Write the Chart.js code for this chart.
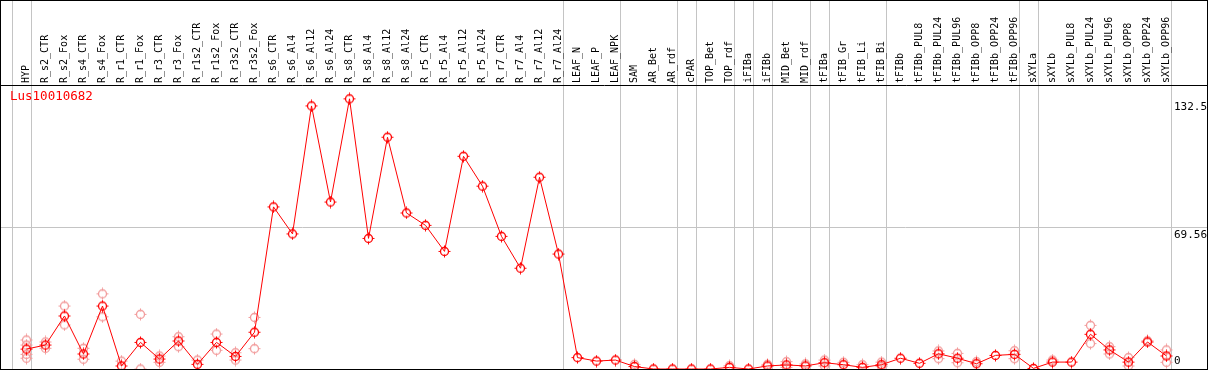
<!DOCTYPE html>
<html>
<head>
<meta charset="utf-8">
<script src="https://cdn.jsdelivr.net/npm/chart.js@4"></script>
<style>
  html, body { margin: 0; padding: 0; background: #fff; }
  #wrap { position: absolute; left: 0; top: 0; width: 1208px; height: 370px; border: 1px solid #000; box-sizing: border-box; }
  #wrap canvas { position: absolute; left: 0; top: 0; }
  #gene { position: absolute; left: 9px; top: 87px; color: #f00; font: 12.5px "DejaVu Sans Mono", monospace; }
</style>
</head>
<body>
<div id="wrap">
  <canvas id="c" width="1206" height="368"></canvas>
  <div id="gene">Lus10010682</div>
</div>
<script>
// sample names along the top
const categories = [
  'HYP', 'R_s2_CTR', 'R_s2_Fox', 'R_s4_CTR', 'R_s4_Fox', 'R_r1_CTR', 'R_r1_Fox', 'R_r3_CTR', 'R_r3_Fox',
  'R_r1s2_CTR', 'R_r1s2_Fox', 'R_r3s2_CTR', 'R_r3s2_Fox', 'R_s6_CTR', 'R_s6_Al4', 'R_s6_Al12', 'R_s6_Al24',
  'R_s8_CTR', 'R_s8_Al4', 'R_s8_Al12', 'R_s8_Al24', 'R_r5_CTR', 'R_r5_Al4', 'R_r5_Al12', 'R_r5_Al24',
  'R_r7_CTR', 'R_r7_Al4', 'R_r7_Al12', 'R_r7_Al24', 'LEAF_N', 'LEAF_P', 'LEAF_NPK', 'SAM', 'AR_Bet', 'AR_rdf',
  'cPAR', 'TOP_Bet', 'TOP_rdf', 'iFIBa', 'iFIBb', 'MID_Bet', 'MID_rdf', 'tFIBa', 'tFIB_Gr', 'tFIB_Li', 'tFIB_Bi',
  'tFIBb', 'tFIBb_PUL8', 'tFIBb_PUL24', 'tFIBb_PUL96', 'tFIBb_OPP8', 'tFIBb_OPP24', 'tFIBb_OPP96',
  'sXYLa', 'sXYLb', 'sXYLb_PUL8', 'sXYLb_PUL24', 'sXYLb_PUL96', 'sXYLb_OPP8', 'sXYLb_OPP24', 'sXYLb_OPP96'
];

// mean expression per sample
const meanValues = [
  9.8, 11.8, 26.1, 7.4, 31.0, 1.5, 13.1, 4.9, 13.8,
  2.3, 13.1, 6.2, 18.1, 79.8, 66.5, 129.5, 82.2,
  133.0, 64.3, 114.1, 76.8, 70.7, 57.9, 104.7, 90.0,
  65.3, 49.6, 94.4, 56.6, 5.6, 3.9, 4.4, 1.2, 0, 0,
  0, 0, 0.8, 0, 1.5, 2.0, 1.5, 3.1, 2.1, 0.8, 2.1,
  5.3, 2.8, 7.5, 5.3, 2.6, 6.7, 7.2,
  0.3, 3.4, 3.4, 17.1, 9.4, 3.4, 13.3, 6.4
];

// single replicates (light circles), one list per sample
const replicates = [
  [14.3, 11.8, 7.2, 5.3], [13.3, 10.2], [31.0, 21.7], [10.2, 4.8], [37.0, 25.7], [3.9], [26.9, 0], [6.4, 3.3], [15.9, 11.0],
  [4.4], [17.2, 9.2], [8.0, 4.4], [25.4, 10.0], [], [], [], [],
  [], [], [], [], [], [], [], [],
  [], [], [], [], [], [], [], [2.3], [], [],
  [], [], [1.6], [], [2.3], [3.6, 0.8], [2.5], [4.4, 1.5], [3.3], [2.1], [3.4, 1.2],
  [], [], [8.9, 5.1], [7.7, 3.1], [3.6], [], [9.0, 5.1],
  [], [4.4], [], [21.5, 12.5], [11.0, 7.4], [5.6, 1.5], [13.9], [9.4, 3.3]
];

// right axis labels
const yTicks = [0, 69.56, 132.5];

// group separators come right after these sample indexes
const groupEnds = [-1, 0, 28, 31, 34, 35, 37, 38, 39, 41, 42, 45, 52, 53, 60];

const X_MIN = -25.5 / 19;
const X_MAX = X_MIN + 1206 / 19;

function marker(color) {
  const c = document.createElement('canvas');
  c.width = 13; c.height = 13;
  const g = c.getContext('2d');
  g.strokeStyle = color;
  g.lineWidth = 1.3;
  g.beginPath(); g.arc(6.5, 6.5, 4, 0, Math.PI * 2); g.stroke();
  g.lineWidth = 1;
  g.beginPath();
  g.moveTo(6.5, 0.5); g.lineTo(6.5, 3.5);
  g.moveTo(6.5, 9.5); g.lineTo(6.5, 12.5);
  g.moveTo(0.5, 6.5); g.lineTo(2.5, 6.5);
  g.moveTo(10.5, 6.5); g.lineTo(12.5, 6.5);
  g.stroke();
  return c;
}

const noPad = s => { s.paddingLeft = 0; s.paddingRight = 0; s.paddingTop = 0; s.paddingBottom = 0; };

const meanPoints = meanValues.map((v, i) => ({ x: i, y: v }));
const repPoints = [];
replicates.forEach((list, i) => list.forEach(v => repPoints.push({ x: i, y: v })));

new Chart(document.getElementById('c'), {
  type: 'line',
  data: {
    datasets: [
      {
        label: 'Lus10010682',
        data: meanPoints,
        borderColor: '#ff0000',
        borderWidth: 1,
        tension: 0,
        pointStyle: marker('#ff0000'),
        pointRadius: 5
      },
      {
        label: 'replicates',
        data: repPoints,
        showLine: false,
        pointStyle: marker('#f29a9a'),
        pointRadius: 5
      }
    ]
  },
  options: {
    responsive: false,
    animation: false,
    events: [],
    layout: { padding: 0, autoPadding: false },
    plugins: { legend: { display: false }, tooltip: { enabled: false } },
    scales: {
      x: {
        type: 'linear',
        position: 'top',
        weight: 1,
        bounds: 'data',
        min: X_MIN,
        max: X_MAX,
        afterBuildTicks: s => { s.ticks = categories.map((c, i) => ({ value: i })); },
        afterFit: s => { s.height = 84; noPad(s); },
        ticks: {
          autoSkip: false,
          minRotation: 90,
          maxRotation: 90,
          padding: 2,
          labelOffset: 12,
          color: '#000',
          font: { family: 'DejaVu Sans Mono', size: 10 },
          callback: v => categories[v]
        },
        grid: { display: true, color: 'rgba(0,0,0,0)', drawTicks: false },
        border: { display: true, color: '#000', width: 1 }
      },
      xg: {
        type: 'linear',
        position: 'top',
        weight: 0,
        bounds: 'data',
        min: X_MIN,
        max: X_MAX,
        afterBuildTicks: s => { s.ticks = groupEnds.map(k => ({ value: k + 0.24 })); },
        afterFit: s => { s.height = 0; noPad(s); },
        ticks: { display: false },
        grid: { color: '#c4c4c4', lineWidth: 1, drawTicks: true, tickLength: 84 },
        border: { display: false }
      },
      y: {
        position: 'right',
        bounds: 'data',
        min: 0,
        max: 139.8,
        afterBuildTicks: s => { s.ticks = yTicks.map(v => ({ value: v })); },
        afterFit: s => { s.width = 0; noPad(s); },
        ticks: {
          mirror: true,
          padding: 0,
          color: '#000',
          font: { family: 'DejaVu Sans Mono', size: 11, lineHeight: 1.4 },
          // labels share a left edge, so short ones are padded with spaces
          callback: v => (v === 0 ? [String(v).padEnd(5, ' '), ''] : ['', String(v)])
        },
        grid: {
          drawTicks: false,
          color: ctx => (ctx.tick && ctx.tick.value === 69.56 ? '#c4c4c4' : 'rgba(0,0,0,0)')
        },
        border: { display: false }
      }
    }
  }
});
</script>
</body>
</html>
